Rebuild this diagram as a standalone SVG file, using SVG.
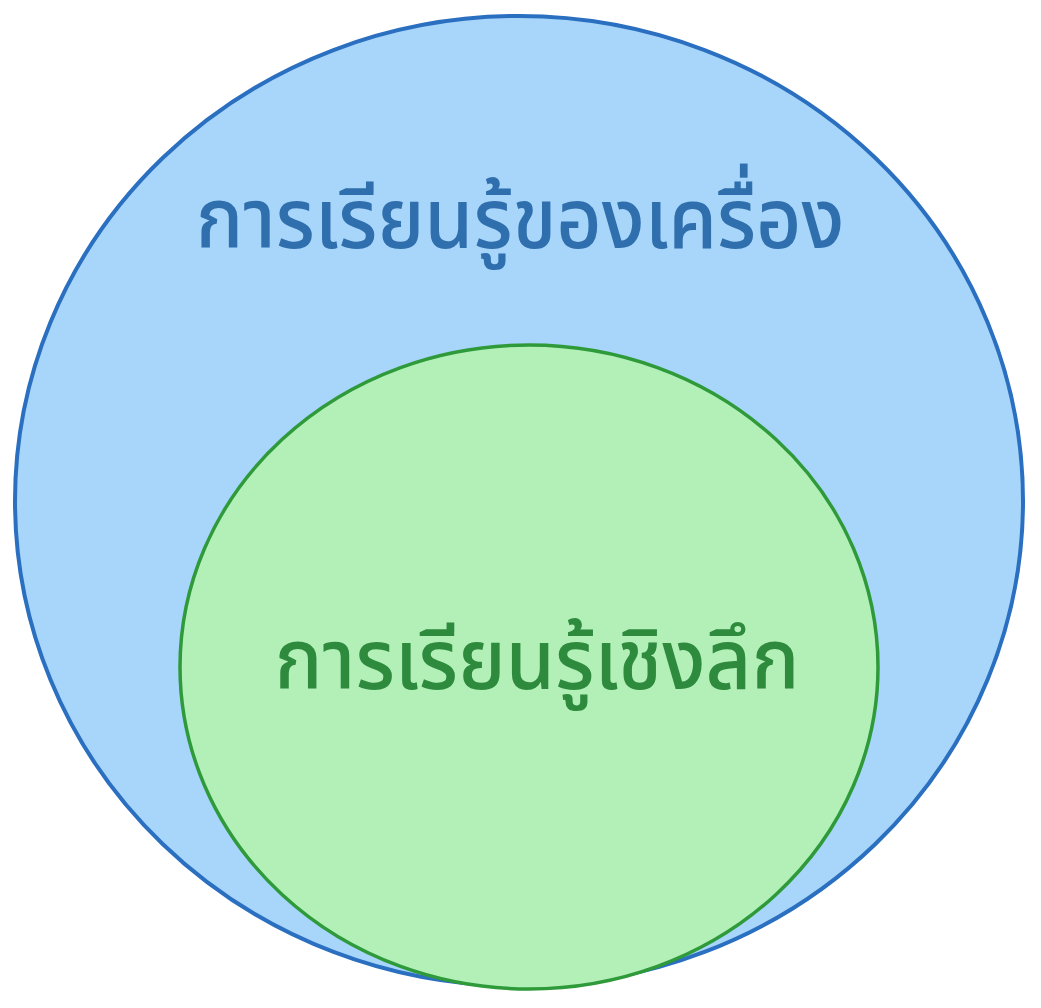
<svg xmlns="http://www.w3.org/2000/svg" width="1041" height="1008" viewBox="0 0 1041 1008">
<style>
.t{font-family:"Noto Sans","Noto Sans Thai","DejaVu Sans",sans-serif;font-size:83px;text-anchor:middle;font-weight:500}
</style>
<rect width="1041" height="1008" fill="#ffffff"/>
<g id="machine-learning">
<ellipse cx="519" cy="501" rx="504" ry="485" fill="#a8d6fb" stroke="#2a6fc0" stroke-width="4"/>
<text class="t" transform="translate(520,248) scale(0.945,1)" x="0" y="0" fill="#2f6fae">การเรียนรู้ของเครื่อง</text>
</g>
<g id="deep-learning">
<ellipse cx="529" cy="667" rx="349" ry="322" fill="#b3f0b8" stroke="#2f9a3a" stroke-width="3.5"/>
<text class="t" transform="translate(537,689) scale(0.955,1)" x="0" y="0" fill="#2e8b3e">การเรียนรู้เชิงลึก</text>
</g>
<g id="connectors"/>
</svg>
